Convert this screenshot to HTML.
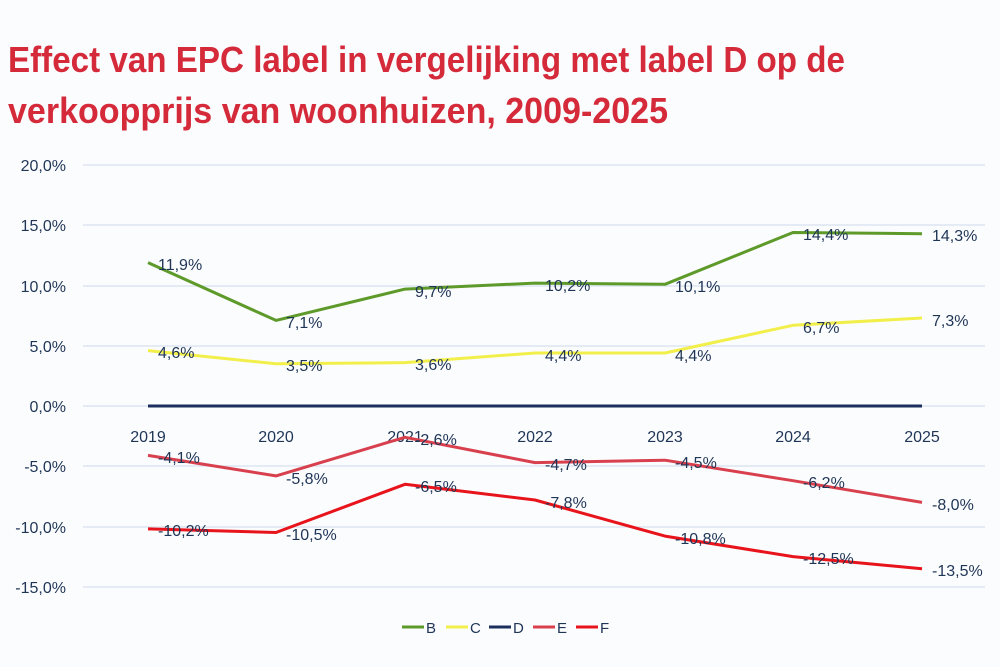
<!DOCTYPE html>
<html><head><meta charset="utf-8"><style>
html,body{margin:0;padding:0;background:#fbfcfe;}
svg{display:block;font-family:"Liberation Sans",sans-serif;}
</style></head><body>
<svg width="1000" height="667" viewBox="0 0 1000 667">
<rect width="1000" height="667" fill="#fbfcfe"/>
<g font-weight="bold" fill="#d42a3a" font-size="36">
<text x="8" y="72" textLength="837" lengthAdjust="spacingAndGlyphs">Effect van EPC label in vergelijking met label D op de</text>
<text x="8" y="123" textLength="660" lengthAdjust="spacingAndGlyphs">verkoopprijs van woonhuizen, 2009-2025</text>
</g>
<g stroke="#dde5f0" stroke-width="1.5">
<line x1="83" x2="985" y1="165" y2="165"/><line x1="83" x2="985" y1="225" y2="225"/>
<line x1="83" x2="985" y1="286" y2="286"/><line x1="83" x2="985" y1="346" y2="346"/>
<line x1="83" x2="985" y1="406" y2="406"/><line x1="83" x2="985" y1="466" y2="466"/>
<line x1="83" x2="985" y1="527" y2="527"/><line x1="83" x2="985" y1="587" y2="587"/>
</g>
<g fill="#1f3556" font-size="16" text-anchor="end">
<text x="66" y="171">20,0%</text><text x="66" y="231">15,0%</text><text x="66" y="292">10,0%</text>
<text x="66" y="352">5,0%</text><text x="66" y="412">0,0%</text><text x="66" y="472">-5,0%</text>
<text x="66" y="533">-10,0%</text><text x="66" y="593">-15,0%</text>
</g>
<g fill="#1f3556" font-size="16" text-anchor="middle">
<text x="148" y="442">2019</text><text x="276" y="442">2020</text><text x="405" y="442">2021</text>
<text x="535" y="442">2022</text><text x="665" y="442">2023</text><text x="793" y="442">2024</text><text x="922" y="442">2025</text>
</g>
<g fill="none" stroke-width="3" stroke-linejoin="round">
<polyline stroke="#5e9a2a" points="148,262.6 276,320.4 405,289.1 535,283.1 665,284.3 793,232.5 922,233.7"/>
<polyline stroke="#f2ef4a" points="148,350.6 276,363.8 405,362.6 535,353 665,353 793,325.3 922,318"/>
<line stroke="#1b2f5e" x1="148" x2="922" y1="406" y2="406"/>
<polyline stroke="#d8404e" points="148,455.4 276,475.9 405,437.3 535,462.6 665,460.2 793,480.7 922,502.4"/>
<polyline stroke="#e8141c" points="148,528.9 276,532.5 405,484.3 535,500 665,536.1 793,556.6 922,568.7"/>
</g>
<g fill="#1f3556" font-size="16">
<text x="158" y="270">11,9%</text><text x="286" y="328">7,1%</text><text x="415" y="297">9,7%</text>
<text x="545" y="291">10,2%</text><text x="675" y="292">10,1%</text><text x="803" y="240">14,4%</text><text x="932" y="241">14,3%</text>
<text x="158" y="358">4,6%</text><text x="286" y="371">3,5%</text><text x="415" y="370">3,6%</text>
<text x="545" y="361">4,4%</text><text x="675" y="361">4,4%</text><text x="803" y="333">6,7%</text><text x="932" y="326">7,3%</text>
<text x="158" y="463">-4,1%</text><text x="286" y="484">-5,8%</text><text x="415" y="445">-2,6%</text>
<text x="545" y="470">-4,7%</text><text x="675" y="468">-4,5%</text><text x="803" y="488">-6,2%</text><text x="932" y="510">-8,0%</text>
<text x="158" y="536">-10,2%</text><text x="286" y="540">-10,5%</text><text x="415" y="492">-6,5%</text>
<text x="545" y="508">-7,8%</text><text x="675" y="544">-10,8%</text><text x="803" y="564">-12,5%</text><text x="932" y="576">-13,5%</text>
</g>
<g stroke-width="3">
<line x1="402" x2="424" y1="627" y2="627" stroke="#5e9a2a"/>
<line x1="446" x2="468" y1="627" y2="627" stroke="#f2ef4a"/>
<line x1="489" x2="511" y1="627" y2="627" stroke="#1b2f5e"/>
<line x1="533" x2="555" y1="627" y2="627" stroke="#d8404e"/>
<line x1="576" x2="598" y1="627" y2="627" stroke="#e8141c"/>
</g>
<g fill="#1f3556" font-size="15">
<text x="426" y="633">B</text><text x="470" y="633">C</text><text x="513" y="633">D</text>
<text x="557" y="633">E</text><text x="600" y="633">F</text>
</g>
</svg>
</body></html>
